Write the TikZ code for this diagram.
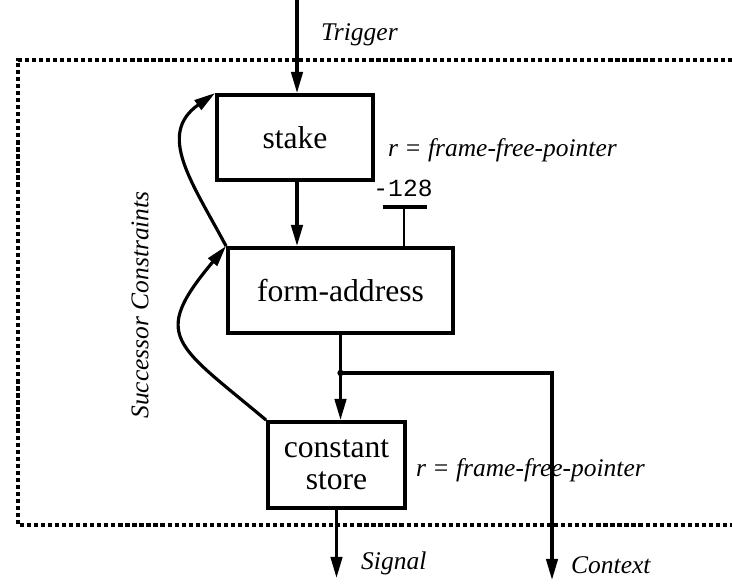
\documentclass[tikz,border=0pt]{standalone}
\usepackage{fontspec}
\setmainfont{Liberation Serif}
\setmonofont{Liberation Mono}
\usetikzlibrary{arrows.meta,calc}
\begin{document}
\begin{tikzpicture}[>={Triangle[length=12pt,width=6.5pt]},
    opbox/.style={draw, line width=2.2pt, minimum width=#1, font=\fontsize{18}{20}\selectfont},
    lbl/.style={font=\fontsize{14.5}{16}\selectfont\itshape},
    flow/.style={->, line width=1.8pt}]
    \useasboundingbox (0,0) rectangle (14.64,11.68);
    % frame of the successor constraints
    \draw[line width=1.9pt, dash pattern=on 2.4pt off 1.6pt]
      (14.64,10.48) -- (0.36,10.48) -- (0.36,1.18) -- (14.64,1.18);
    \node[lbl, rotate=90] (succ) at (2.8,5.58) {Successor Constraints};
    % operations
    \node[opbox=3.12cm, minimum height=1.7cm] (stake) at (5.9,8.93) {stake};
    \node[opbox=4.5cm, minimum height=1.7cm] (form) at (6.81,5.87) {form-address};
    \node[opbox=2.74cm, minimum height=1.72cm, align=center] (cstore) at (6.73,2.38)
      {constant\\[-2pt]store};
    \node[lbl, anchor=west] (rstake) at (7.64,8.68) {r = frame-free-pointer};
    \node[lbl, anchor=west] (rcstore) at (8.2,2.28) {r = frame-free-pointer};
    % offset operand
    \node[font=\fontsize{14}{16}\ttfamily] (off) at (8.06,7.92) {-128};
    \coordinate (barl) at (7.66,7.54);
    \coordinate (barr) at (8.54,7.54);
    \coordinate (barm) at (8.08,7.54);
    \draw[line width=1.8pt] (barl) -- (barr);
    \draw[line width=1.6pt] (barm) -- (barm |- form.north);
    % inputs and outputs
    \coordinate (trig) at (5.94,11.68);
    \node[lbl, anchor=west] (ltrig) at (6.3,10.98) {Trigger};
    \draw[flow] (trig) -- (trig |- stake.north);
    \draw[flow] (stake.south -| trig) -- (trig |- form.north);
    \coordinate (split) at ($ (form.south) + (0,-0.76) $);
    \coordinate (ctx) at (11.04,0.08);
    \coordinate (sig) at (6.73,0.12);
    \draw[line width=1.8pt] (form.south) -- (split);
    \fill (split) circle (1.8pt);
    \draw[flow] (split) -- (cstore.north -| split);
    \draw[flow] (split) -| (ctx);
    \draw[flow] (cstore.south) -- (sig);
    \node[lbl, anchor=west] (lsig) at (7.1,0.42) {Signal};
    \node[lbl, anchor=west] (lctx) at (11.3,0.38) {Context};
    % successor arcs
    \draw[flow] (form.north west) to[out=118, in=215, looseness=1.2] (stake.north west);
    \draw[flow] (cstore.north west) to[out=140, in=230, looseness=1.7] (form.north west);
\end{tikzpicture}
\end{document}
